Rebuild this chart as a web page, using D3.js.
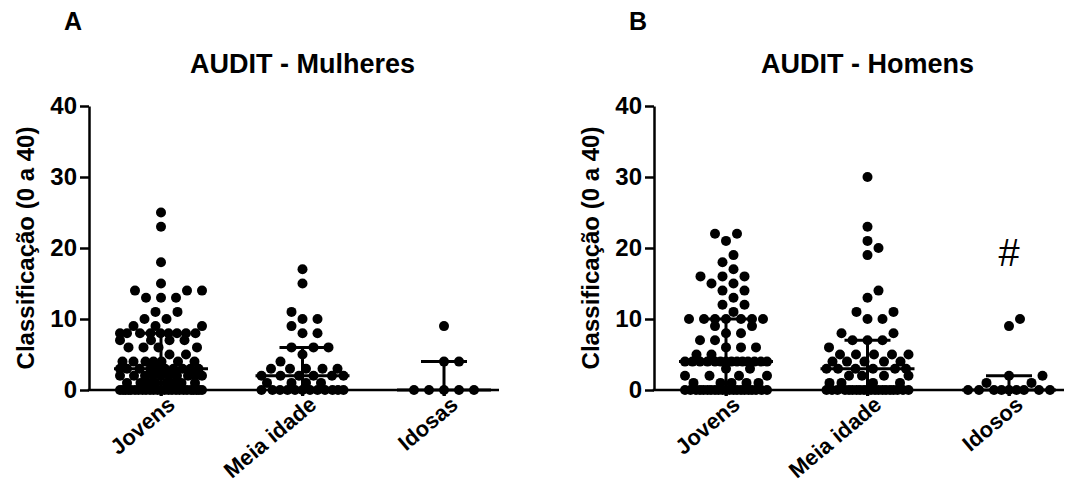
<!DOCTYPE html>
<html>
<head>
<meta charset="utf-8">
<script src="https://cdn.jsdelivr.net/npm/d3@7"></script>
<style>
  body { margin: 0; background: #fff; }
  svg { display: block; }
  text { font-family: "Liberation Sans", Arial, sans-serif; fill: #000; }
</style>
</head>
<body>
<svg></svg>
<script>
let width = 1072, height = 491;

// categories
const categoriesA = ["Jovens", "Meia idade", "Idosas"];
const categoriesB = ["Jovens", "Meia idade", "Idosos"];
const yTicks = [0, 10, 20, 30, 40];

// AUDIT scores, women
const mulheresJovens = [
  0,0,0,0,0,0,0,0,0,0,0,0,0,0,0,0,0,0,0,0,0,0,0,0,0,
  1,1,1,1,1,1,1,1,
  2,2,2,2,2,2,2,2,2,2,
  3,3,3,3,3,3,3,3,3,3,
  4,4,4,4,4,4,4,
  5,5, 6,6,6,6, 7,7,7,7,
  8,8,8,8,8,8,8,8,8,
  9,9,9, 10,10, 11,11, 13,13,13, 14,14,14, 15, 18, 23, 25];
const mulheresMeia = [
  0,0,0,0,0,0,0,0,0,0,0,0,
  1,1,1,1, 2,2,2,2,2,2, 3,3,3,3,3, 4, 5,
  6,6,6, 8,8, 9, 10,10, 11, 15, 17];
const mulheresIdosas = [0,0,0,0,0,4,4,9];

// AUDIT scores, men
const homensJovens = [
  0,0,0,0,0,0,0,0,0,0,0,0,0,0,0,0,0,0,0,0,0,
  1,1,1,1,1, 2,2,2,2, 3,3,
  4,4,4,4,4,4,4,4,4,4,4,4,4,4,
  5,5, 6,6,6, 7,7, 8,8, 9,9,
  10,10,10,10,10,10,10, 11, 12,12, 13, 14,14, 15,15,
  16,16,16, 17, 18, 19, 21, 22,22];
const homensMeia = [
  0,0,0,0,0,0,0,0,0,0,0,0,0,0,0,0,0,0,0,0,
  1,1,1,1, 2,2,2,2, 3,3,3,3,3,3, 4,4,4,4,4, 5,5,5,5,5,
  6, 7,7,7, 8,8, 10,10, 11,11, 13, 14, 19, 20, 21, 23, 30];
const homensIdosos = [0,0,0,0,0,0,0,0,0, 1,1, 2,2, 9, 10];

let svg = d3.select("svg")
    .attr("width", width)
    .attr("height", height)
    .attr("viewBox", "0 0 " + width + " " + height);

let panels = [
  { letter: "A", title: "AUDIT - Mulheres", cats: categoriesA,
    groups: [mulheresJovens, mulheresMeia, mulheresIdosas], left: 89, mark: null },
  { letter: "B", title: "AUDIT - Homens", cats: categoriesB,
    groups: [homensJovens, homensMeia, homensIdosos], left: 654, mark: "#" }
];

let yTop = 106, yBottom = 390;

let y = d3.scaleLinear().domain([0, 40]).range([yBottom, yTop]);

// GraphPad style quartiles ((n+1)p)
function quant(sorted, p) {
  let n = sorted.length;
  let h = (n + 1) * p;
  if (h <= 1) return sorted[0];
  if (h >= n) return sorted[n - 1];
  let lo = Math.floor(h);
  return sorted[lo - 1] + (h - lo) * (sorted[lo] - sorted[lo - 1]);
}

// greedy swarm: each dot takes the spot nearest the centre that keeps
// an elliptical gap (wider sideways) to the dots already placed
function swarm(values) {
  const SX = 15, SY = 10, W = 41;
  let placed = [];
  values.slice().sort((a, b) => a - b).forEach(v => {
    let py = y(v);
    let near = placed.filter(p => Math.abs(p.y - py) < SY);
    let row = placed.filter(p => p.v == v);
    let left = row.filter(p => p.dx < 0).length, right = row.filter(p => p.dx > 0).length;
    let signs = right > left ? [-1, 1] : [1, -1];
    let best = 0, bestScore = -Infinity;
    for (let a = 0; a <= W; a += 0.5) {
      for (let s of signs) {
        let dx = a * s;
        let md = Infinity;
        near.forEach(p => {
          let d = Math.hypot((p.dx - dx) / SX, (p.y - py) / SY);
          if (d < md) md = d;
        });
        let score = md >= 1 ? 1000 - a : md;
        if (score > bestScore) { bestScore = score; best = dx; }
      }
    }
    placed.push({ v: v, y: py, dx: best });
  });
  return placed;
}

panels.forEach(pn => {
  let g = svg.append("g");
  let x = d3.scalePoint().domain(pn.cats).range([pn.left + 72, pn.left + 355]);
  let xEnd = pn.left + 410;

  // panel letter + title
  g.append("text")
    .attr("x", pn.left - 25).attr("y", 30)
    .attr("font-size", 25).attr("font-weight", "bold")
    .text(pn.letter);
  g.append("text")
    .attr("x", x(pn.cats[1])).attr("y", 73)
    .attr("text-anchor", "middle")
    .attr("font-size", 27).attr("font-weight", "bold")
    .text(pn.title);

  // y axis
  let yAxis = g.append("g")
    .attr("transform", "translate(" + pn.left + ",0)")
    .call(d3.axisLeft(y).tickValues(yTicks).tickSize(9).tickSizeOuter(0).tickPadding(3));
  yAxis.selectAll("path, line").attr("stroke", "#000").attr("stroke-width", 2.5);
  yAxis.selectAll("text")
    .attr("font-size", 24).attr("font-weight", "bold")
    .attr("font-family", "\"Liberation Sans\", Arial, sans-serif");

  g.append("text")
    .attr("transform", "translate(" + (pn.left - 55) + "," + ((yTop + yBottom) / 2) + ") rotate(-90)")
    .attr("text-anchor", "middle")
    .attr("font-size", 24).attr("font-weight", "bold")
    .text("Classificação (0 a 40)");

  // x axis
  let xAxis = g.append("g")
    .attr("transform", "translate(0," + yBottom + ")")
    .call(d3.axisBottom(x).tickSize(6).tickSizeOuter(0));
  xAxis.select(".domain").remove();
  xAxis.selectAll("line").attr("stroke", "#000").attr("stroke-width", 2.5);
  xAxis.selectAll("text")
    .attr("font-size", 22).attr("font-weight", "bold")
    .attr("font-family", "\"Liberation Sans\", Arial, sans-serif")
    .attr("text-anchor", "end")
    .attr("x", 0).attr("y", 0)
    .attr("dy", "0.35em")
    .attr("transform", "translate(10,11) rotate(-40)");
  g.append("line")
    .attr("x1", pn.left - 1.25).attr("x2", xEnd)
    .attr("y1", yBottom).attr("y2", yBottom)
    .attr("stroke", "#000").attr("stroke-width", 2.5);

  // dots + median / IQR
  pn.groups.forEach((vals, i) => {
    let c = x(pn.cats[i]);
    let pts = swarm(vals);
    g.append("g").selectAll("circle")
      .data(pts)
      .enter()
      .append("circle")
      .attr("cx", d => c + d.dx)
      .attr("cy", d => d.y)
      .attr("r", 5)
      .attr("fill", "#000");

    let s = vals.slice().sort((a, b) => a - b);
    let med = quant(s, 0.5), q1 = quant(s, 0.25), q3 = quant(s, 0.75);
    let eb = g.append("g").attr("stroke", "#000").attr("stroke-width", 3);
    eb.append("line").attr("x1", c).attr("x2", c).attr("y1", y(q1) + 6).attr("y2", y(q3));
    eb.append("line").attr("x1", c - 47).attr("x2", c + 47).attr("y1", y(med)).attr("y2", y(med));
    eb.append("line").attr("x1", c - 23).attr("x2", c + 23).attr("y1", y(q3)).attr("y2", y(q3));
    if (q1 > 0) eb.append("line").attr("x1", c - 23).attr("x2", c + 23).attr("y1", y(q1)).attr("y2", y(q1));
  });

  if (pn.mark) {
    g.append("text")
      .attr("x", x(pn.cats[2])).attr("y", y(17.4))
      .attr("text-anchor", "middle")
      .attr("font-size", 38)
      .text(pn.mark);
  }
});
</script>
</body>
</html>
